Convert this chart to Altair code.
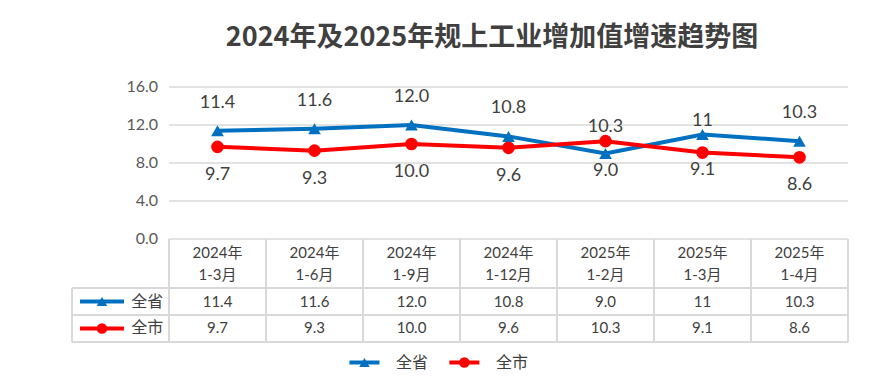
import altair as alt
import pandas as pd

# ---------------- data ----------------
periods_year = ["2024年", "2024年", "2024年", "2024年", "2025年", "2025年", "2025年"]
periods_month = ["1-3月", "1-6月", "1-9月", "1-12月", "1-2月", "1-3月", "1-4月"]
series_names = ["全省", "全市"]
province = [11.4, 11.6, 12.0, 10.8, 9.0, 11.0, 10.3]
province_text = ["11.4", "11.6", "12.0", "10.8", "9.0", "11", "10.3"]
city = [9.7, 9.3, 10.0, 9.6, 10.3, 9.1, 8.6]
city_text = ["9.7", "9.3", "10.0", "9.6", "10.3", "9.1", "8.6"]
y_ticks = [0, 4, 8, 12, 16]
# label placement used by the original (above/below, near/far from the marker)
province_place = ["af", "af", "af", "af", "bn", "an", "af"]
city_place = ["bf", "bf", "bf", "bf", "an", "bn", "bf"]

TITLE = "2024年及2025年规上工业增加值增速趋势图"
BLUE, RED = "#0070C0", "#FF0000"
GRID = "#D9D9D9"
TXT = "#404040"
FONT = "Lato, 'Noto Sans CJK SC', sans-serif"

n = len(periods_year)
# table geometry in y-units (below the 0 baseline)
HDR_B, R1_B, R2_B = -5.16, -8.0, -10.84

rows = []
for i in range(n):
    rows.append(dict(u=i + 0.5, value=province[i], txt=province_text[i],
                     series="全省", place=province_place[i]))
for i in range(n):
    rows.append(dict(u=i + 0.5, value=city[i], txt=city_text[i],
                     series="全市", place=city_place[i]))
df = pd.DataFrame(rows)

xs = alt.Scale(domain=[-1, 7], nice=False, zero=False)
ys = alt.Scale(domain=[-13, 16], nice=False, zero=False)
cs = alt.Scale(domain=series_names, range=[BLUE, RED])
ss = alt.Scale(domain=series_names, range=["triangle-up", "circle"])

X = lambda f: alt.X(f, type="quantitative", scale=xs, axis=None)
Y = lambda f: alt.Y(f, type="quantitative", scale=ys, axis=None)
C = alt.Color("series:N", scale=cs, legend=None)

base = alt.Chart(df)

# gridlines
grid_df = pd.DataFrame({"y": y_ticks, "x1": 0, "x2": n})
grid = alt.Chart(grid_df).mark_rule(color=GRID, strokeWidth=1.5).encode(
    x=X("x1"), x2="x2:Q", y=Y("y"))

# y tick labels
ylab = alt.Chart(pd.DataFrame({"y": y_ticks, "x": 0})).mark_text(
    align="right", baseline="middle", dx=-11, fontSize=16, color="#595959", font=FONT
).encode(x=X("x"), y=Y("y"), text=alt.Text("y:Q", format=".1f"))

# table lines
vl = [dict(x=float(k), y1=0.0, y2=R2_B) for k in range(n + 1)]
vl.append(dict(x=-1.0, y1=HDR_B, y2=R2_B))
vlines = alt.Chart(pd.DataFrame(vl)).mark_rule(color=GRID, strokeWidth=2).encode(
    x=X("x"), y=Y("y1"), y2="y2:Q")
hl = pd.DataFrame({"y": [HDR_B, R1_B, R2_B], "x1": -1.0, "x2": float(n)})
hlines = alt.Chart(hl).mark_rule(color=GRID, strokeWidth=2).encode(
    x=X("x1"), x2="x2:Q", y=Y("y"))

# header text
hdr_df = pd.DataFrame({"u": [i + 0.5 for i in range(n)],
                       "t": [periods_year[i] + "\n" + periods_month[i] for i in range(n)],
                       "y": (0 + HDR_B) / 2})
hdr = alt.Chart(hdr_df).mark_text(
    fontSize=15, color=TXT, font=FONT, lineBreak="\n", lineHeight=22, baseline="middle",
    dy=-11
).encode(x=X("u"), y=Y("y"), text="t:N")

# table values
tdf = df.copy()
tdf["ty"] = tdf["series"].map({"全省": (HDR_B + R1_B) / 2, "全市": (R1_B + R2_B) / 2})
tvals = alt.Chart(tdf).mark_text(fontSize=15, color=TXT, font=FONT, baseline="middle").encode(
    x=X("u"), y=Y("ty"), text="txt:N")

# legend keys (table + bottom legend)
leg_rows = []
for s, yy in zip(series_names, [(HDR_B + R1_B) / 2, (R1_B + R2_B) / 2]):
    leg_rows.append(dict(series=s, x1=-0.918, x2=-0.464, xm=-0.691, xt=-0.39, y=yy))
for s, x0 in zip(series_names, [1.86, 2.89]):
    leg_rows.append(dict(series=s, x1=x0, x2=x0 + 0.31, xm=x0 + 0.155, xt=x0 + 0.48, y=-13.0))
ldf = pd.DataFrame(leg_rows)
lline = alt.Chart(ldf).mark_rule(strokeWidth=4).encode(x=X("x1"), x2="x2:Q", y=Y("y"), color=C)
lmark = alt.Chart(ldf).mark_point(filled=True, opacity=1, size=110).encode(
    x=X("xm"), y=Y("y"), color=C, shape=alt.Shape("series:N", scale=ss, legend=None))
ltext = alt.Chart(ldf).mark_text(align="left", baseline="middle", fontSize=16, color=TXT,
                                 font=FONT).encode(x=X("xt"), y=Y("y"), text="series:N")

# series
def series_layers(name):
    d = base.transform_filter(alt.datum.series == name)
    line = d.mark_line(strokeWidth=4).encode(x=X("u"), y=Y("value"), color=C)
    pts = d.mark_point(filled=True, opacity=1, size=160).encode(
        x=X("u"), y=Y("value"), color=C,
        shape=alt.Shape("series:N", scale=ss, legend=None))
    return [line, pts]

def labels(place, dy):
    return base.transform_filter(alt.datum.place == place).mark_text(
        fontSize=18, color=TXT, font=FONT, baseline="middle", dy=dy
    ).encode(x=X("u"), y=Y("value"), text="txt:N")

lbls = [labels("af", -28), labels("an", -14), labels("bn", 17), labels("bf", 28)]

chart = alt.layer(
    grid, vlines, hlines, ylab, hdr, tvals,
    *series_layers("全省"), *series_layers("全市"),
    *lbls, lline, lmark, ltext
).properties(
    width=776, height=275.5,
    title=alt.TitleParams(TITLE, fontSize=27, fontWeight="bold", color=TXT,
                          font="'Noto Sans CJK SC', sans-serif", anchor="middle",
                          frame="group", baseline="alphabetic", offset=6, dx=32),
    autosize=alt.AutoSizeParams(type="none"),
    padding={"left": 64, "top": 79, "right": 22, "bottom": 7},
    background="white",
).configure_view(stroke=None)

chart.save("out.html", embed_options={"renderer": "svg", "actions": False})
